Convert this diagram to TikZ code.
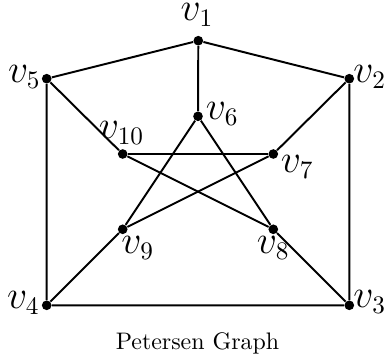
\documentclass[tikz,border=0pt]{standalone}
\begin{document}
\begin{tikzpicture}[x=0.435pt,y=-0.435pt,
  vtx/.style={circle,fill=black,inner sep=0pt,minimum size=4.2pt},
  edge/.style={line width=0.85pt},
  lbl/.style={font=\fontsize{16}{19}\selectfont,inner sep=0pt}]
\useasboundingbox (0,0) rectangle (386,360);
\node[vtx] (v1) at (198.3,40.7) {};
\node[vtx] (v2) at (349.3,78.7) {};
\node[vtx] (v3) at (349.3,305.3) {};
\node[vtx] (v4) at (46.7,305.3) {};
\node[vtx] (v5) at (46.7,78.7) {};
\node[vtx] (v6) at (198,116.3) {};
\node[vtx] (v7) at (273.3,154) {};
\node[vtx] (v8) at (273.3,229.3) {};
\node[vtx] (v9) at (122.7,229.3) {};
\node[vtx] (v10) at (122.7,154) {};
\node[lbl,anchor=base] (l1) at (197,21) {$v_1$};
\node[lbl,anchor=base west] (l2) at (353,83) {$v_2$};
\node[lbl,anchor=base west] (l3) at (353,308) {$v_3$};
\node[lbl,anchor=base east] (l4) at (40,308.5) {$v_4$};
\node[lbl,anchor=base east] (l5) at (41,83) {$v_5$};
\node[lbl,anchor=base west] (l6) at (205.5,120) {$v_6$};
\node[lbl,anchor=base west] (l7) at (280.5,172.5) {$v_7$};
\node[lbl,anchor=base west] (l8) at (256.5,253.5) {$v_8$};
\node[lbl,anchor=base west] (l9) at (121,253.5) {$v_9$};
\node[lbl,anchor=base west] (l10) at (98.5,139) {$v_{10}$};
\draw[edge] (v1) -- (v2) -- (v3) -- (v4) -- (v5) -- (v1);
\draw[edge] (v1) -- (v6);
\draw[edge] (v2) -- (v7);
\draw[edge] (v3) -- (v8);
\draw[edge] (v4) -- (v9);
\draw[edge] (v5) -- (v10);
\draw[edge] (v6) -- (v8);
\draw[edge] (v6) -- (v9);
\draw[edge] (v7) -- (v9);
\draw[edge] (v7) -- (v10);
\draw[edge] (v10) -- (v8);
\node[anchor=base,inner sep=0pt,font=\fontsize{10.4}{12.5}\selectfont] (cap) at (197.5,350) {Petersen Graph};
\end{tikzpicture}
\end{document}
